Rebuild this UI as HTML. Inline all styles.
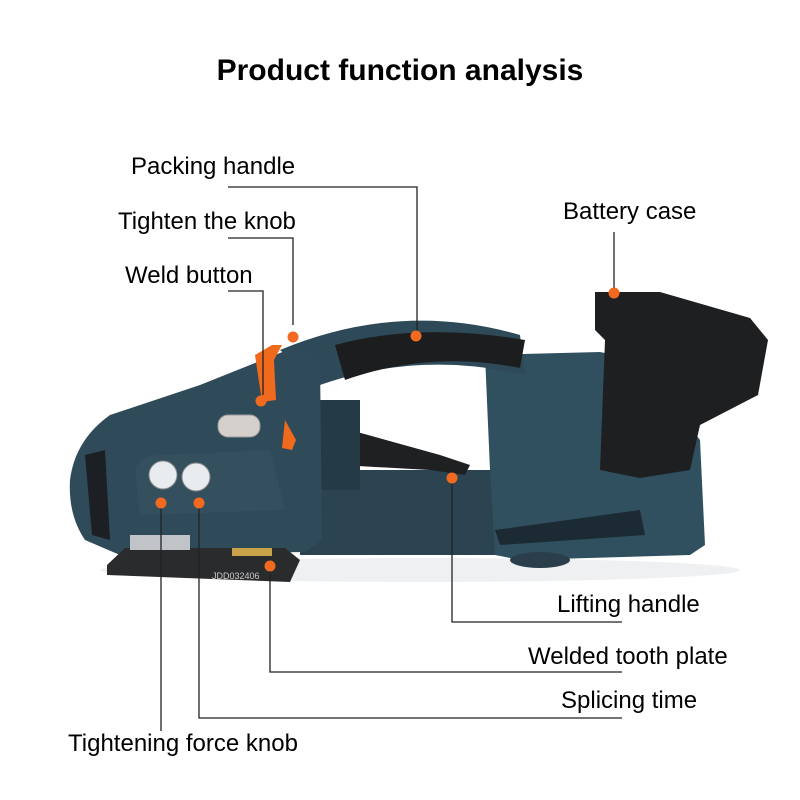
<!DOCTYPE html>
<html><head><meta charset="utf-8"><style>
html,body{margin:0;padding:0;background:#fff}
svg{display:block}
text{font-family:"Liberation Sans",Arial,sans-serif;fill:#000}
</style></head><body>
<svg width="800" height="800" viewBox="0 0 800 800" xmlns="http://www.w3.org/2000/svg">
<rect width="800" height="800" fill="#fff"/>
<text x="400" y="80" font-size="30" font-weight="bold" text-anchor="middle">Product function analysis</text>

<ellipse cx="420" cy="570" rx="320" ry="12" fill="#eef0f2"/>
<path d="M300 470 L500 470 L505 555 L300 555 Z" fill="#2c4452"/>
<path d="M485 355 L600 352 L640 360 L700 440 L705 545 L690 555 L520 560 L495 555 L490 470 Z" fill="#30505f"/>
<path d="M495 530 L640 510 L645 535 L500 545 Z" fill="#1c2a33"/>
<ellipse cx="540" cy="560" rx="30" ry="8" fill="#2a3f4b"/>
<path d="M280 350 Q400 300 520 335 L525 375 Q420 350 320 385 Z" fill="#2e4a58"/>
<path d="M335 345 Q420 322 525 340 L520 368 Q430 350 345 380 Z" fill="#1b1d1f"/>
<path d="M330 440 L350 430 L440 455 L470 465 L465 475 L430 470 L340 465 Z" fill="#1e2022"/>
<rect x="320" y="400" width="40" height="90" fill="#243a46"/>
<path d="M595 292 L660 292 L750 318 L768 340 L758 395 L700 425 L690 470 L640 478 L600 470 L605 340 L595 330 Z" fill="#1e1f21"/>
<path d="M70 480 Q75 440 110 415 L200 385 L250 365 L300 345 L320 360 L322 540 L305 552 L120 555 L85 540 Q68 515 70 480 Z" fill="#2f4b5a"/>
<path d="M85 455 L105 450 L110 540 L92 535 Z" fill="#1c2024"/>
<path d="M135 470 Q140 455 160 455 L270 450 L285 510 L140 515 Z" fill="#344f5e"/>
<path d="M255 355 L272 345 L282 345 L274 360 L276 400 L262 402 Z" fill="#f06a1e"/>
<path d="M285 420 L296 440 L292 450 L282 448 Z" fill="#f06a1e"/>
<rect x="218" y="415" width="42" height="22" rx="10" fill="#d6d0cc" stroke="#999"/>
<circle cx="163" cy="475" r="14" fill="#e9ecef" stroke="#888"/>
<circle cx="196" cy="477" r="14" fill="#e9ecef" stroke="#888"/>
<path d="M107 565 L125 548 L285 548 L300 560 L290 582 L107 575 Z" fill="#2a2b2d"/>
<rect x="130" y="535" width="60" height="15" fill="#c0c4c8"/>
<rect x="232" y="548" width="40" height="8" fill="#c9a34a"/>
<text x="212" y="579" font-size="9" style="fill:#ccc">JDD032406</text>

<g stroke="#222" stroke-width="1.3" fill="none">
<polyline points="228,187 417,187 417,333"/>
<polyline points="228,238 293,238 293,325"/>
<polyline points="228,291 263,291 263,395"/>
<polyline points="614,232 614,290"/>
<polyline points="452,480 452,622 622,622"/>
<polyline points="270,566 270,672 622,672"/>
<polyline points="199,503 199,718 622,718"/>
<polyline points="161,503 161,731"/>
</g>
<g fill="#f26a1f">
<circle cx="416" cy="336" r="5.5"/>
<circle cx="293" cy="337" r="5.5"/>
<circle cx="261" cy="401" r="5.5"/>
<circle cx="614" cy="293" r="5.5"/>
<circle cx="452" cy="478" r="5.5"/>
<circle cx="270" cy="566" r="5.5"/>
<circle cx="161" cy="503" r="5.5"/>
<circle cx="199" cy="503" r="5.5"/>
</g>

<g font-size="24">
<text x="131" y="174">Packing handle</text>
<text x="118" y="229">Tighten the knob</text>
<text x="125" y="283">Weld button</text>
<text x="563" y="219">Battery case</text>
<text x="557" y="612">Lifting handle</text>
<text x="528" y="664">Welded tooth plate</text>
<text x="561" y="708">Splicing time</text>
<text x="68" y="751">Tightening force knob</text>
</g>
</svg>
</body></html>
